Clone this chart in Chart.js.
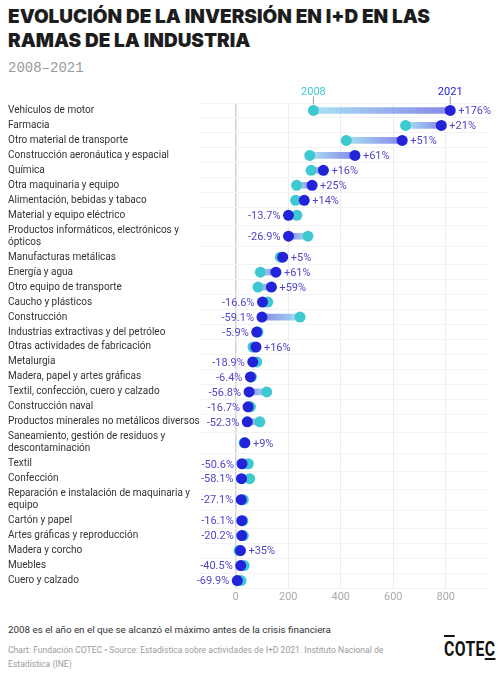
<!DOCTYPE html>
<html>
<head>
<meta charset="utf-8">
<script src="https://cdn.jsdelivr.net/npm/chart.js@4.4.0/dist/chart.umd.min.js"></script>
<style>
  body { margin: 0; background: #fff; font-family: Roboto, sans-serif; }
  #wrap { position: relative; width: 504px; height: 680px; overflow: hidden; }
  h1 { position: absolute; left: 8px; top: 5px; margin: 0; font-family: Inter, "DejaVu Sans", sans-serif; font-weight: 900;
       font-size: 19px; line-height: 24px; color: #1d1d1d; letter-spacing: 0; white-space: nowrap; }
  .sub { position: absolute; left: 8px; top: 60px; font-family: "Liberation Mono", monospace; font-size: 14px; color: #9a9a9a; }
  #box { position: absolute; left: 0; top: 80px; width: 504px; height: 530px; }
  .note { position: absolute; left: 8px; top: 624px; font-size: 9.8px; color: #333; }
  .src { position: absolute; left: 8px; top: 644px; width: 410px; font-size: 8.6px; line-height: 13.5px; color: #9c9c9c; }
  .logo { position: absolute; left: 444px; top: 637px; font-family: Roboto, sans-serif; font-weight: bold;
          font-size: 21px; letter-spacing: 0.5px; color: #111; transform: scaleX(0.75); transform-origin: left; }
  .logo .o { text-decoration: overline; }
  .logo .u { text-decoration: underline; }
</style>
</head>
<body>
<div id="wrap">
  <h1>EVOLUCIÓN DE LA INVERSIÓN EN I+D EN LAS<br>RAMAS DE LA INDUSTRIA</h1>
  <div class="sub">2008–2021</div>
  <div id="box"><canvas id="chart"></canvas></div>
  <div class="note">2008 es el año en el que se alcanzó el máximo antes de la crisis financiera</div>
  <div class="src">Chart: Fundación COTEC • Source: Estadística sobre actividades de I+D 2021. Instituto Nacional de Estadística (INE)</div>
  <div class="logo"><span class="o">C</span>OTE<span class="u">C</span></div>
</div>
<script>
const sectors = [
  'Vehículos de motor', 'Farmacia', 'Otro material de transporte', 'Construcción aeronáutica y espacial',
  'Química', 'Otra maquinaria y equipo', 'Alimentación, bebidas y tabaco', 'Material y equipo eléctrico',
  ['Productos informáticos, electrónicos y', 'ópticos'], 'Manufacturas metálicas', 'Energía y agua',
  'Otro equipo de transporte', 'Caucho y plásticos', 'Construcción', 'Industrias extractivas y del petróleo',
  'Otras actividades de fabricación', 'Metalurgia', 'Madera, papel y artes gráficas',
  'Textil, confección, cuero y calzado', 'Construcción naval', 'Productos minerales no metálicos diversos',
  ['Saneamiento, gestión de residuos y', 'descontaminación'], 'Textil', 'Confección',
  ['Reparación e instalación de maquinaria y', 'equipo'], 'Cartón y papel', 'Artes gráficas y reproducción',
  'Madera y corcho', 'Muebles', 'Cuero y calzado'
];
const inv2008 = [296, 647, 421, 282, 287, 232, 228, 233, 275, 170, 94, 85, 122, 245, 85, 66, 80, 60, 118, 56, 92, 32, 48, 53, 29, 27, 29, 13, 32, 20];
const inv2021 = [817, 783, 634, 454, 334, 291, 261, 201, 201, 179, 153, 136, 102, 100, 80, 77, 65, 56, 51, 47, 44, 35, 24, 22, 21, 23, 23, 18, 19, 6];
const change = [176, 21, 51, 61, 16, 25, 14, -13.7, -26.9, 5, 61, 59, -16.6, -59.1, -5.9, 16, -18.9, -6.4, -56.8, -16.7, -52.3, 9, -50.6, -58.1, -27.1, -16.1, -20.2, 35, -40.5, -69.9];
const xTicks = [0, 200, 400, 600, 800];

const C2008 = '#3ec8d2';
const C2021 = '#2323d9';
const CLABEL = '#5046c8';

// rows with a wrapped label get more room, like the original
const rowH = sectors.map(s => Array.isArray(s) ? 1.8 : 1);
const rowPos = [];
let acc = 0;
rowH.forEach(h => { rowPos.push(acc + h / 2); acc += h; });
const rowTotal = acc;

function connectorColor(c) {
  const chart = c.chart;
  if (!chart.chartArea || c.dataIndex === undefined) return '#9bb';
  const xs = chart.scales.x;
  const a = xs.getPixelForValue(inv2008[c.dataIndex]);
  const b = xs.getPixelForValue(inv2021[c.dataIndex]);
  if (Math.abs(a - b) < 1) return 'rgba(120,140,230,0.5)';
  const g = chart.ctx.createLinearGradient(a, 0, b, 0);
  g.addColorStop(0, 'rgba(140,215,238,0.75)');
  g.addColorStop(1, 'rgba(95,95,225,0.75)');
  return g;
}

const labelPlugin = {
  id: 'dumbbellLabels',
  afterDatasetsDraw(chart) {
    const ctx = chart.ctx;
    const xs = chart.scales.x, ys = chart.scales.y;
    ctx.save();
    ctx.font = '11px Roboto';
    ctx.textBaseline = 'middle';
    ctx.fillStyle = CLABEL;
    change.forEach((v, i) => {
      const y = ys.getPixelForValue(rowPos[i]);
      if (v >= 0) {
        ctx.textAlign = 'left';
        ctx.fillText('+' + v + '%', xs.getPixelForValue(Math.max(inv2008[i], inv2021[i])) + 8, y + 1);
      } else {
        ctx.textAlign = 'right';
        ctx.fillText(v.toFixed(1) + '%', xs.getPixelForValue(Math.min(inv2008[i], inv2021[i])) - 8, y + 1);
      }
    });
    // year keys above the first row
    const y0 = ys.getPixelForValue(rowPos[0]);
    [[inv2008[0], '2008', C2008], [inv2021[0], '2021', C2021]].forEach(([v, t, col]) => {
      const x = xs.getPixelForValue(v);
      ctx.strokeStyle = '#999';
      ctx.lineWidth = 1;
      ctx.beginPath();
      ctx.moveTo(x, y0 - 14);
      ctx.lineTo(x, y0 - 6);
      ctx.stroke();
      ctx.textAlign = 'center';
      ctx.fillStyle = col;
      ctx.fillText(t, x, y0 - 18);
    });
    ctx.restore();
  }
};

new Chart(document.getElementById('chart'), {
  data: {
    datasets: [
      {
        type: 'line', label: '2021', order: 0, showLine: false,
        data: inv2021.map((v, i) => ({ x: v, y: rowPos[i] })),
        pointRadius: 5.5, pointHoverRadius: 5.5, pointBackgroundColor: C2021, pointBorderWidth: 0
      },
      {
        type: 'line', label: '2008', order: 1, showLine: false,
        data: inv2008.map((v, i) => ({ x: v, y: rowPos[i] })),
        pointRadius: 5.5, pointHoverRadius: 5.5, pointBackgroundColor: C2008, pointBorderWidth: 0
      },
      {
        type: 'bar', label: 'cambio', order: 2,
        data: inv2008.map((v, i) => ({ x: [v, inv2021[i]], y: rowPos[i] })),
        backgroundColor: connectorColor, barThickness: 6, borderSkipped: false
      }
    ]
  },
  options: {
    indexAxis: 'y',
    responsive: true,
    maintainAspectRatio: false,
    animation: false,
    layout: { padding: { left: 8, right: 17, top: 23, bottom: 0 } },
    plugins: { legend: { display: false }, tooltip: { enabled: false } },
    scales: {
      x: {
        type: 'linear', min: -136, max: 957, position: 'bottom',
        afterBuildTicks: s => { s.ticks = xTicks.map(v => ({ value: v })); },
        afterFit: s => { s.height = 22; },
        grid: { color: c => c.tick && c.tick.value === 0 ? '#d4d4d4' : '#ececec', lineWidth: c => c.tick && c.tick.value === 0 ? 1.5 : 1, drawTicks: false },
        border: { display: false },
        ticks: { color: '#aaa', font: { family: 'Roboto', size: 11 }, padding: 3 }
      },
      y: {
        type: 'linear', reverse: true, min: 0, max: rowTotal, offset: false,
        afterBuildTicks: s => { s.ticks = rowPos.map(v => ({ value: v })); },
        afterFit: s => { s.width = 192; s.paddingTop = 0; s.paddingBottom = 0; },
        grid: { color: '#f3f3f3', drawTicks: false },
        border: { display: false },
        ticks: {
          crossAlign: 'far', color: '#333', font: { family: 'Roboto', size: 10 }, autoSkip: false, padding: 4,
          callback: (v, i) => sectors[i]
        }
      }
    }
  },
  plugins: [labelPlugin]
});
</script>
</body>
</html>
